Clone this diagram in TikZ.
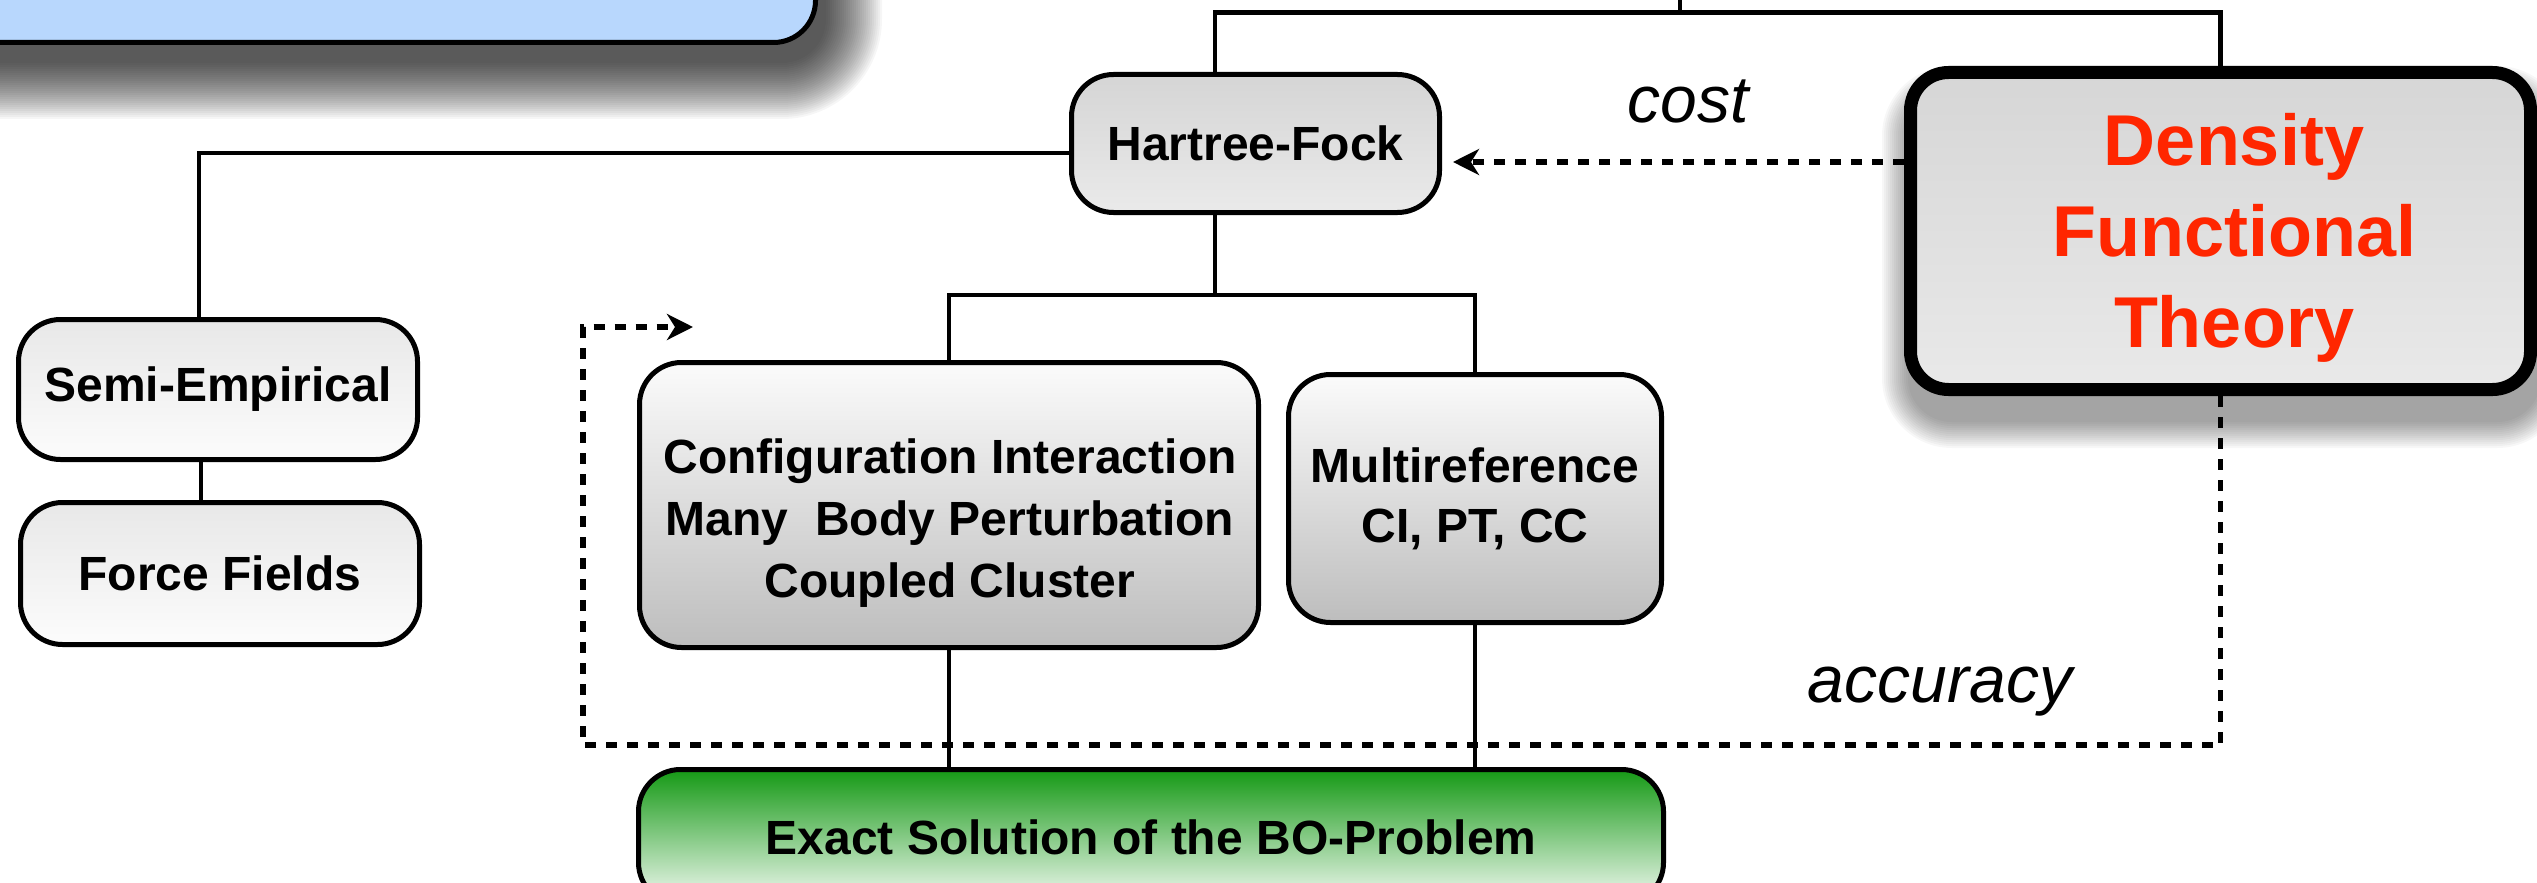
\documentclass[tikz,border=0pt]{standalone}
\usepackage{fontspec}
\setmainfont{Liberation Sans}
\usetikzlibrary{arrows.meta}
\definecolor{bluefill}{RGB}{184,215,253}
\definecolor{dftred}{RGB}{255,38,0}
\definecolor{hfTop}{RGB}{213,213,213}
\definecolor{hfBot}{RGB}{234,234,234}
\definecolor{seTop}{RGB}{232,232,232}
\definecolor{seBot}{RGB}{252,252,252}
\definecolor{ciTop}{RGB}{251,251,251}
\definecolor{ciBot}{RGB}{189,189,189}
\definecolor{dftTop}{RGB}{214,214,214}
\definecolor{dftBot}{RGB}{233,233,233}
\definecolor{exTop}{RGB}{21,153,21}
\definecolor{exBot}{RGB}{246,251,246}
\begin{document}
\begin{tikzpicture}[x=0.5pt,y=-0.5pt,
  box/.style={draw=black, line width=2.5pt, rounded corners=21pt, inner sep=0pt, align=center,
              font=\fontsize{24}{31}\selectfont\bfseries},
  boxtext/.style={inner sep=0pt, align=center},
  conn/.style={line width=2.3pt},
  dotline/.style={line width=2.6pt, dash pattern=on 5.5pt off 5pt},
  arr/.style={-{Stealth[length=13pt,width=13pt,inset=4pt]}},
  lbl/.style={font=\fontsize{33}{40}\selectfont\itshape, inner sep=0pt}]
\useasboundingbox (0,0) rectangle (2537,883);
\clip (0,0) rectangle (2537,883);

% soft shadows
\foreach \e in {0,2,...,56}{
  \pgfmathsetmacro\rr{22+0.5*\e}
  \fill[black,opacity=0.037,rounded corners=\rr pt] (-188-\e,-182-\e) rectangle (826+\e,63+\e);
}
\foreach \e in {0,2,...,26}{
  \pgfmathsetmacro\rr{22+0.5*\e}
  \fill[black,opacity=0.03,rounded corners=\rr pt] (1908-\e,92-\e) rectangle (2541+\e,422+\e);
}

% boxes
\node[draw=black, line width=2.5pt, rounded corners=21pt, fill=bluefill, inner sep=0pt,
      minimum width=506.5pt, minimum height=120pt] (topbox) at (309,-77.5) {};
\node[box, top color=hfTop, bottom color=hfBot, minimum width=184pt, minimum height=69pt]
      (hf) at (1255.5,143.5) {Hartree-Fock};
\node[box, top color=seTop, bottom color=seBot, minimum width=199.5pt, minimum height=70pt]
      (se) at (218,389.5) {Semi-Empirical};
\node[box, top color=seTop, bottom color=seBot, minimum width=199.5pt, minimum height=71pt]
      (ff) at (220,573.5) {Force Fields};
\node[box, top color=ciTop, bottom color=ciBot, minimum width=309.5pt, minimum height=142.5pt]
      (ci) at (949,505) {};
\node[boxtext, font=\fontsize{24}{31}\selectfont\bfseries] (citext) at (950,523.5)
      {Configuration Interaction\\Many\ \ Body Perturbation\\Coupled Cluster};
\node[box, top color=ciTop, bottom color=ciBot, minimum width=186.5pt, minimum height=124pt,
      font=\fontsize{24}{30}\selectfont\bfseries]
      (mr) at (1475,498.5) {Multireference\\CI, PT, CC};
\node[box, top color=exTop, bottom color=exBot, minimum width=512.5pt, minimum height=67.5pt]
      (ex) at (1151,837) {Exact Solution of the BO-Problem};
\node[draw=black, line width=6.5pt, rounded corners=19pt, top color=dftTop, bottom color=dftBot,
      inner sep=0pt, minimum width=310pt, minimum height=158.5pt] (dft) at (2220.5,231) {};
\node[boxtext, text=dftred, font=\fontsize{36}{45.5}\selectfont\bfseries] (dfttext) at (2234,238)
      {Density\\Functional\\Theory};

% helper coordinates
\coordinate (t0) at (1680,-10);
\coordinate (t1) at (1680,12.5);
\coordinate (hx) at (1215,295);
\coordinate (l1) at (199,153);
\coordinate (l2) at (201,0);
\coordinate (c2) at (1453,162);
\coordinate (a1) at (583,745);
\coordinate (a2) at (693,327);

% dotted arrows
\draw[dotline, arr] (dft.west |- c2) -- (c2);
\draw[dotline, arr] (dft.south) |- (a1) |- (a2);

% tree connectors
\draw[conn] (t0) -- (t1);
\draw[conn] (hf.north -| hx) |- (t1) -| (dft.north);
\draw[conn] (hf.south -| hx) -- (hx);
\draw[conn] (ci.north) |- (hx) -| (mr.north);
\draw[conn] (hf.west |- l1) -| (se.north -| l1);
\draw[conn] (se.south -| l2) -- (ff.north -| l2);
\draw[conn] (ci.south) -- (ci.south |- ex.north);
\draw[conn] (mr.south) -- (mr.south |- ex.north);

% labels
\node[lbl, anchor=base] (costlbl) at (1688,123) {cost};
\node[lbl, anchor=base] (acclbl) at (1940,702) {accuracy};
\end{tikzpicture}
\end{document}
